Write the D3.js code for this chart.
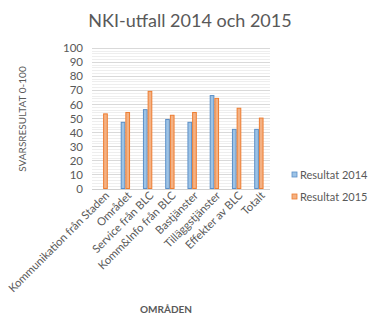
<!DOCTYPE html>
<html>
<head>
<meta charset="utf-8">
<script src="https://cdn.jsdelivr.net/npm/d3@7"></script>
<style>
  html, body { margin: 0; padding: 0; background: #fff; }
  svg text { font-family: Lato, "Open Sans", sans-serif; }
</style>
</head>
<body>
<svg id="chart" width="374" height="325"></svg>
<script>
// NKI scores per area, 2014 and 2015
const categories = ["Kommunikation från Staden", "Området", "Service från BLC", "Komm&Info från BLC",
                    "Bastjänster", "Tilläggstjänster", "Effekter av BLC", "Totalt"];
const values2014 = [null, 47, 56, 49, 47, 66, 42, 42];
const values2015 = [53, 54, 69, 52, 54, 64, 57, 50];
const seriesNames = ["Resultat 2014", "Resultat 2015"];
const yTicks = [0, 10, 20, 30, 40, 50, 60, 70, 80, 90, 100];

const colors = {
  fill: ["#9dc3e6", "#f4b183"],
  stroke: ["#5b8fc7", "#ed7d31"]
};

const svg = d3.select("#chart");
const plot = { left: 92, right: 270, top: 47.7, bottom: 188.5 };

const x = d3.scaleBand().domain(categories).range([plot.left, plot.right]).paddingInner(0.58).paddingOuter(0.29);
const xs = d3.scaleBand().domain([0, 1]).range([0, x.bandwidth()]);
const y = d3.scaleLinear().domain([0, 100]).range([plot.bottom, plot.top]);

// Minor gridlines every 2 units
svg.append("g").selectAll("line")
  .data(d3.range(0, 101, 2).filter(v => v % 10 !== 0))
  .join("line")
  .attr("x1", plot.left).attr("x2", plot.right)
  .attr("y1", d => Math.round(y(d)) + 0.5).attr("y2", d => Math.round(y(d)) + 0.5)
  .attr("stroke", "#eeeeee").attr("stroke-width", 1);

// Major gridlines every 10
svg.append("g").selectAll("line")
  .data(yTicks.slice(1))
  .join("line")
  .attr("x1", plot.left).attr("x2", plot.right)
  .attr("y1", d => Math.round(y(d)) + 0.5).attr("y2", d => Math.round(y(d)) + 0.5)
  .attr("stroke", "#d9d9d9").attr("stroke-width", 1);

// Y axis labels
const yAxis = d3.axisLeft(y).tickValues(yTicks).tickSize(0).tickPadding(0);
const yg = svg.append("g").attr("transform", `translate(${plot.left - 9},0)`).call(yAxis);
yg.select(".domain").remove();
yg.selectAll("text").attr("fill", "#595959").style("font-size", "11.5px").attr("dy", "0.35em");

// Bars
const series = [values2014, values2015];
series.forEach((vals, si) => {
  svg.append("g").selectAll("rect")
    .data(categories.map((c, i) => ({ c, v: vals[i] })).filter(d => d.v != null))
    .join("rect")
    .attr("x", d => x(d.c) + xs(si) + 0.5)
    .attr("width", xs.bandwidth() - 1)
    .attr("y", d => y(d.v))
    .attr("height", d => y(0) - y(d.v))
    .attr("fill", colors.fill[si])
    .attr("stroke", colors.stroke[si])
    .attr("stroke-width", 1);
});

// Baseline
svg.append("line")
  .attr("x1", plot.left).attr("x2", plot.right)
  .attr("y1", Math.round(y(0)) + 0.5).attr("y2", Math.round(y(0)) + 0.5)
  .attr("stroke", "#d0d0d0");

// X axis labels, rotated 45 degrees
const xAxis = d3.axisBottom(x).tickSize(0).tickPadding(0);
const xg = svg.append("g").attr("transform", `translate(0,${plot.bottom + 5})`).call(xAxis);
xg.select(".domain").remove();
xg.selectAll("text")
  .attr("fill", "#595959")
  .style("font-size", "11.2px")
  .attr("text-anchor", "end")
  .attr("dy", "0.35em")
  .attr("transform", "translate(4,0) rotate(-45)");

// Title
svg.append("text")
  .attr("x", 190).attr("y", 27)
  .attr("text-anchor", "middle")
  .attr("fill", "#595959")
  .style("font-size", "18px")
  .text("NKI-utfall 2014 och 2015");

// Axis titles
svg.append("text")
  .attr("transform", "translate(26,119) rotate(-90)")
  .attr("text-anchor", "middle")
  .attr("fill", "#595959")
  .style("font-size", "10px")
  .text("SVARSRESULTAT 0-100");

svg.append("text")
  .attr("x", 166).attr("y", 313)
  .attr("text-anchor", "middle")
  .attr("fill", "#595959")
  .style("font-size", "10px")
  .style("font-weight", "bold")
  .text("OMRÅDEN");

// Legend
const legend = svg.append("g");
const legendY = [175, 197];
const legendX = [292, 297];
seriesNames.forEach((name, i) => {
  legend.append("rect")
    .attr("x", legendX[i] - (i ? 5 : 0)).attr("y", legendY[i] - 3)
    .attr("width", 5).attr("height", 5)
    .attr("fill", colors.fill[i]).attr("stroke", colors.stroke[i]).attr("stroke-width", 0.8);
  legend.append("text")
    .attr("x", legendX[i] - (i ? 5 : 0) + 8).attr("y", legendY[i])
    .attr("dy", "0.35em")
    .attr("fill", "#595959")
    .style("font-size", "11px")
    .text(name);
});
</script>
</body>
</html>
